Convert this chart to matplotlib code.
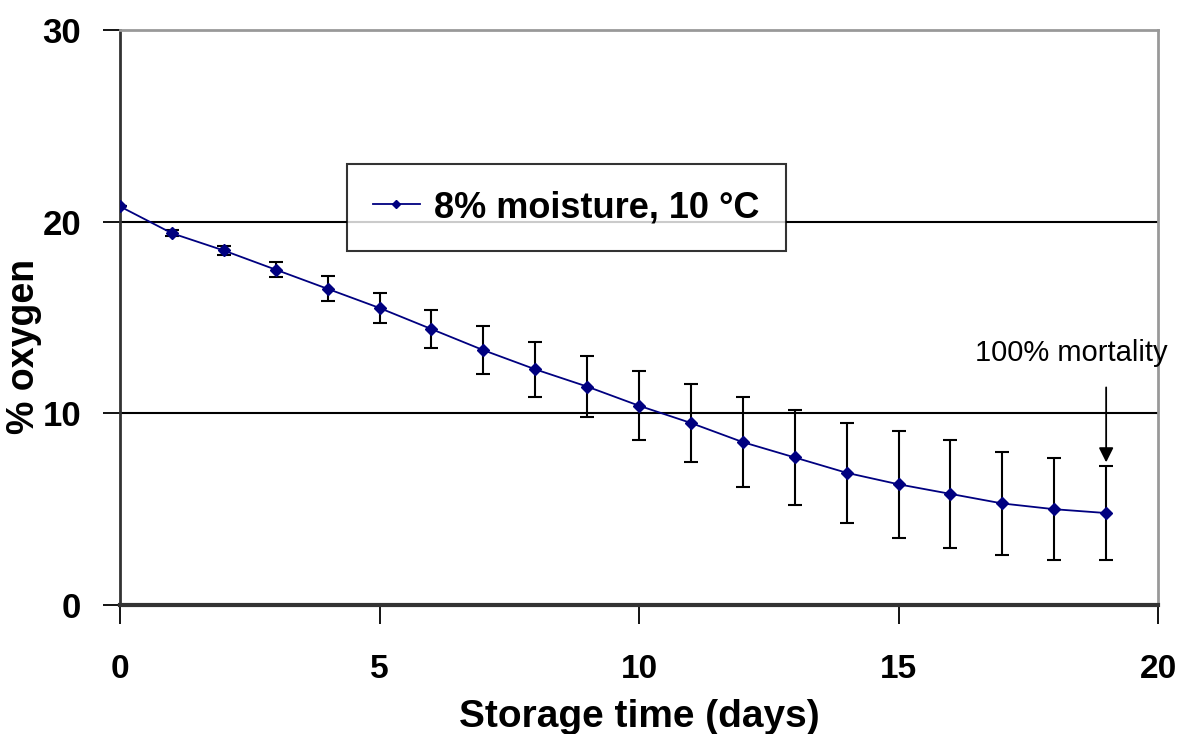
import matplotlib.pyplot as plt

# oxygen readings during storage
days = [0, 1, 2, 3, 4, 5, 6, 7, 8, 9, 10, 11, 12, 13, 14, 15, 16, 17, 18, 19]
oxygen = [20.8, 19.4, 18.5, 17.5, 16.5, 15.5, 14.4, 13.3, 12.3, 11.4,
          10.4, 9.5, 8.5, 7.7, 6.9, 6.3, 5.8, 5.3, 5.0, 4.8]
err = [0.0, 0.15, 0.25, 0.4, 0.65, 0.8, 1.0, 1.25, 1.45, 1.6,
       1.8, 2.05, 2.35, 2.5, 2.6, 2.8, 2.8, 2.7, 2.65, 2.45]

xticks = [0, 5, 10, 15, 20]
yticks = [0, 10, 20, 30]

plt.rcParams['font.family'] = ['Liberation Sans', 'DejaVu Sans']

fig = plt.figure(figsize=(11.8, 7.34), dpi=100)
ax = fig.add_axes([0.1017, 0.1757, 0.8797, 0.7833])

# grid lines
for yv in [10, 20]:
    ax.axhline(yv, color='black', lw=1.5, zorder=1)

ax.errorbar(days, oxygen, yerr=err, fmt='none', ecolor='black',
            elinewidth=1.5, capsize=5, capthick=1.5, zorder=2)
ax.plot(days, oxygen, color='#000080', lw=1.3, marker='D', markersize=6.5,
        label='8% moisture, 10 \u00b0C', zorder=3)

ax.set_xlim(0, 20)
ax.set_ylim(0, 30)
ax.set_xticks(xticks)
ax.set_yticks(yticks)
ax.set_xticklabels([str(v) for v in xticks], fontsize=24, fontweight='bold')
ax.set_yticklabels([str(v) for v in yticks], fontsize=25, fontweight='bold')
ax.tick_params(axis='x', direction='out', length=14, width=1.3, pad=21)
ax.tick_params(axis='y', direction='out', length=12, width=1.3, pad=16)

ax.spines['left'].set_color('#333333')
ax.spines['left'].set_linewidth(2)
ax.spines['bottom'].set_color('#333333')
ax.spines['bottom'].set_linewidth(3)
ax.spines['top'].set_color('#999999')
ax.spines['top'].set_linewidth(2)
ax.spines['right'].set_color('#999999')
ax.spines['right'].set_linewidth(2)

ax.set_xlabel('Storage time (days)', fontsize=28, fontweight='bold',
              labelpad=10)
ax.set_ylabel('% oxygen', fontsize=27, fontweight='bold')
ax.yaxis.set_label_coords(-0.075, 0.45)

leg = ax.legend(loc='upper left', bbox_to_anchor=(0.2187, 0.767),
                prop={'weight': 'bold', 'size': 26},
                frameon=True, fancybox=False, handlelength=1.3,
                handletextpad=0.4, borderpad=0.72, borderaxespad=0,
                markerscale=0.7)
leg.get_frame().set_edgecolor('black')
leg.get_frame().set_linewidth(1.5)
leg.set_zorder(5)

ax.annotate('', xy=(19, 7.3), xytext=(19, 11.5),
            arrowprops=dict(arrowstyle='-|>', color='black', lw=1.3,
                            mutation_scale=22))
ax.text(18.32, 12.4, '100% mortality', fontsize=21,
        ha='center', va='bottom')

fig.savefig('out.png', dpi=100)
